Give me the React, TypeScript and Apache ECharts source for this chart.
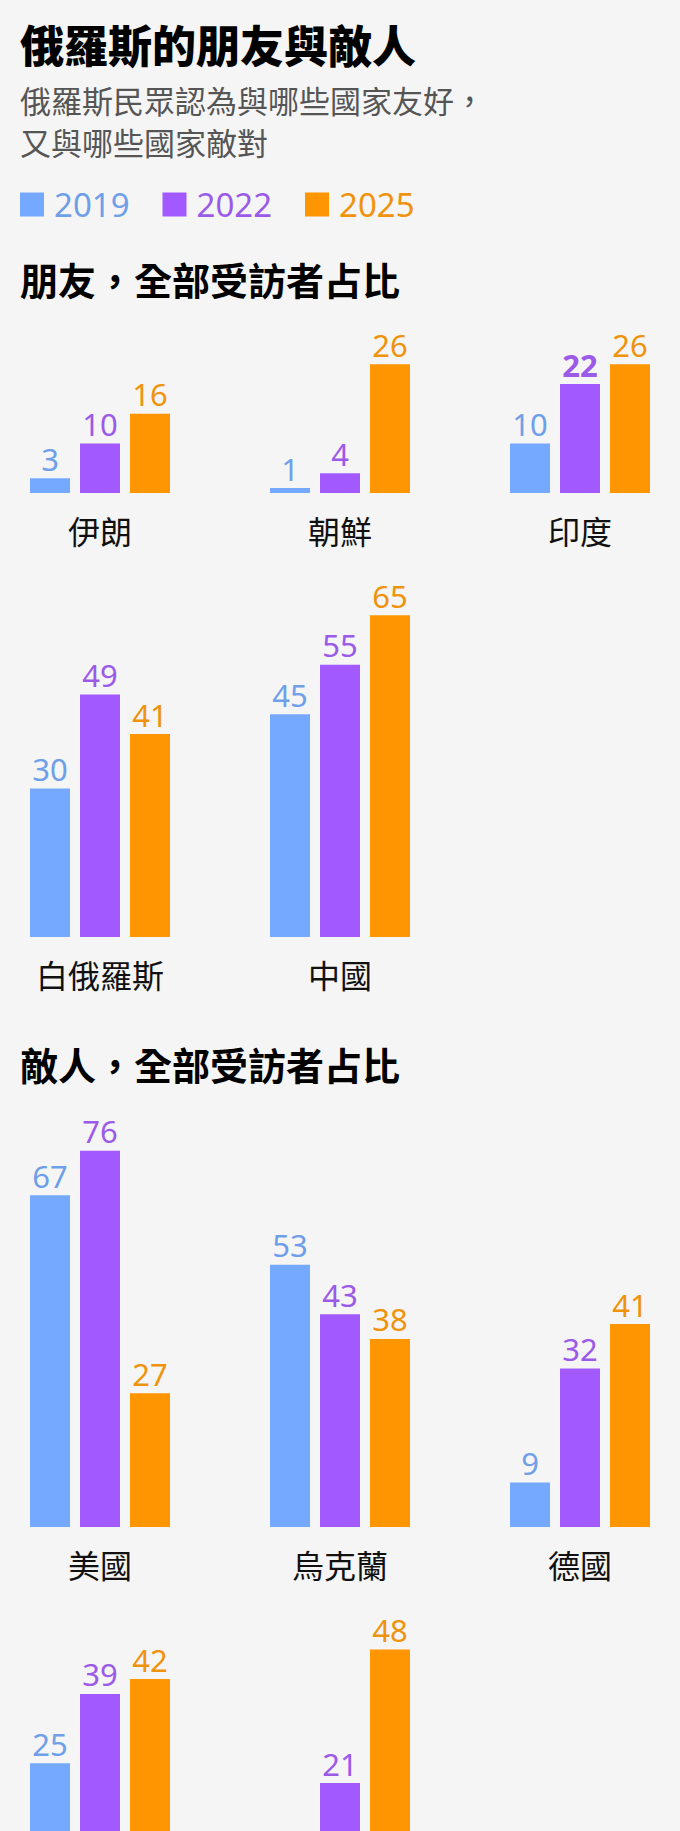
import { useEffect, useRef } from "react";
import * as echarts from "echarts";

// 年份與配色
const years = ["2019", "2022", "2025"];
const barColors = ["#74a9ff", "#a259ff", "#ff9500"];
const labelColors = ["#6f9fe8", "#9b5ae8", "#f0930c"];

// 朋友
const friendsRow1Countries = ["伊朗", "朝鮮", "印度"];
const friendsRow1_2019 = [3, 1, 10];
const friendsRow1_2022 = [10, 4, 22];
const friendsRow1_2025 = [16, 26, 26];

const friendsRow2Countries = ["白俄羅斯", "中國", ""];
const friendsRow2_2019 = [30, 45, null];
const friendsRow2_2022 = [49, 55, null];
const friendsRow2_2025 = [41, 65, null];

// 敵人
const enemiesRow1Countries = ["美國", "烏克蘭", "德國"];
const enemiesRow1_2019 = [67, 53, 9];
const enemiesRow1_2022 = [76, 43, 32];
const enemiesRow1_2025 = [27, 38, 41];

// 最後一排在原圖底部被截斷，國名看不到
const enemiesRow2Countries = ["", "", ""];
const enemiesRow2_2019 = [25, null, null];
const enemiesRow2_2022 = [39, 21, null];
const enemiesRow2_2025 = [42, 48, null];

const NUM_FONT = "'Noto Sans', 'Noto Sans CJK TC', sans-serif";
const CJK_FONT = "'Noto Sans CJK TC', 'Noto Sans', sans-serif";
const PX_PER_UNIT = 4.95;

interface Row {
  countries: string[];
  values: (number | null)[][];
  baseline: number;
  max: number;
  bold?: { year: number; index: number };
}

const rows: Row[] = [
  {
    countries: friendsRow1Countries,
    values: [friendsRow1_2019, friendsRow1_2022, friendsRow1_2025],
    baseline: 493,
    max: 30,
    bold: { year: 1, index: 2 },
  },
  {
    countries: friendsRow2Countries,
    values: [friendsRow2_2019, friendsRow2_2022, friendsRow2_2025],
    baseline: 937,
    max: 70,
  },
  {
    countries: enemiesRow1Countries,
    values: [enemiesRow1_2019, enemiesRow1_2022, enemiesRow1_2025],
    baseline: 1527,
    max: 80,
  },
  {
    countries: enemiesRow2Countries,
    values: [enemiesRow2_2019, enemiesRow2_2022, enemiesRow2_2025],
    baseline: 1887,
    max: 50,
  },
];

function textEl(
  text: string,
  top: number,
  fontSize: number,
  lineHeight: number,
  fontWeight: string | number,
  fill: string
) {
  return {
    type: "text",
    left: 20,
    top,
    style: {
      text,
      fontSize,
      lineHeight,
      fontWeight,
      fontFamily: CJK_FONT,
      fill,
    },
  };
}

function App() {
  const ref = useRef<HTMLDivElement>(null);

  useEffect(() => {
    document.body.style.margin = "0";
    document.body.style.background = "#f5f5f5";
    if (!ref.current) return;
    const chart = echarts.init(ref.current, null, { renderer: "svg" });

    // 組中心在 100 / 340 / 580，boundaryGap 關掉讓類目落在格線兩端
    // outerBoundsMode none：最後一排要超出畫布底部（原圖被截斷）
    const grid = rows.map((r) => ({
      left: 100,
      right: 100,
      top: r.baseline - r.max * PX_PER_UNIT,
      height: r.max * PX_PER_UNIT,
      outerBoundsMode: "none",
      containLabel: false,
    }));

    const xAxis = rows.map((r, i) => ({
      type: "category" as const,
      gridIndex: i,
      data: r.countries,
      boundaryGap: false,
      axisLine: { show: false },
      axisTick: { show: false },
      splitLine: { show: false },
      axisLabel: {
        interval: 0,
        margin: 21,
        fontSize: 32,
        color: "#111",
        fontFamily: CJK_FONT,
      },
    }));

    const yAxis = rows.map((r, i) => ({
      type: "value" as const,
      gridIndex: i,
      min: 0,
      max: r.max,
      show: false,
      splitLine: { show: false },
    }));

    const series: any[] = [];
    rows.forEach((r, ri) => {
      years.forEach((y, yi) => {
        series.push({
          name: y,
          type: "bar",
          xAxisIndex: ri,
          yAxisIndex: ri,
          barWidth: 40,
          barGap: "25%",
          itemStyle: { color: barColors[yi] },
          label: {
            show: true,
            position: "top",
            distance: 4,
            fontSize: 31,
            fontFamily: NUM_FONT,
            color: labelColors[yi],
          },
          data: r.values[yi].map((v, k) => {
            if (v === null) return "-";
            if (r.bold && r.bold.year === yi && r.bold.index === k) {
              return { value: v, label: { fontWeight: "bold" } };
            }
            return v;
          }),
        });
      });
    });

    chart.setOption({
      animation: false,
      backgroundColor: "#f5f5f5",
      legend: {
        left: 20,
        top: 188,
        padding: 0,
        itemWidth: 24,
        itemHeight: 24,
        itemGap: 33,
        icon: "rect",
        selectedMode: false,
        textStyle: {
          fontSize: 33,
          fontFamily: NUM_FONT,
          padding: [0, 0, 0, 5],
        },
        data: years.map((y, i) => ({
          name: y,
          itemStyle: { color: barColors[i] },
          textStyle: { color: labelColors[i] },
        })),
      },
      graphic: [
        textEl("俄羅斯的朋友與敵人", 22, 44, 44, 900, "#000"),
        textEl("俄羅斯民眾認為與哪些國家友好，", 82, 31, 34, "normal", "#555"),
        textEl("又與哪些國家敵對", 124, 31, 34, "normal", "#555"),
        textEl("朋友，全部受訪者占比", 259, 38, 38, "bold", "#000"),
        textEl("敵人，全部受訪者占比", 1044, 38, 38, "bold", "#000"),
      ],
      grid,
      xAxis,
      yAxis,
      series,
    });

    return () => {
      chart.dispose();
    };
  }, []);

  return <div ref={ref} style={{ width: 680, height: 1831 }}></div>;
}

export default App;
